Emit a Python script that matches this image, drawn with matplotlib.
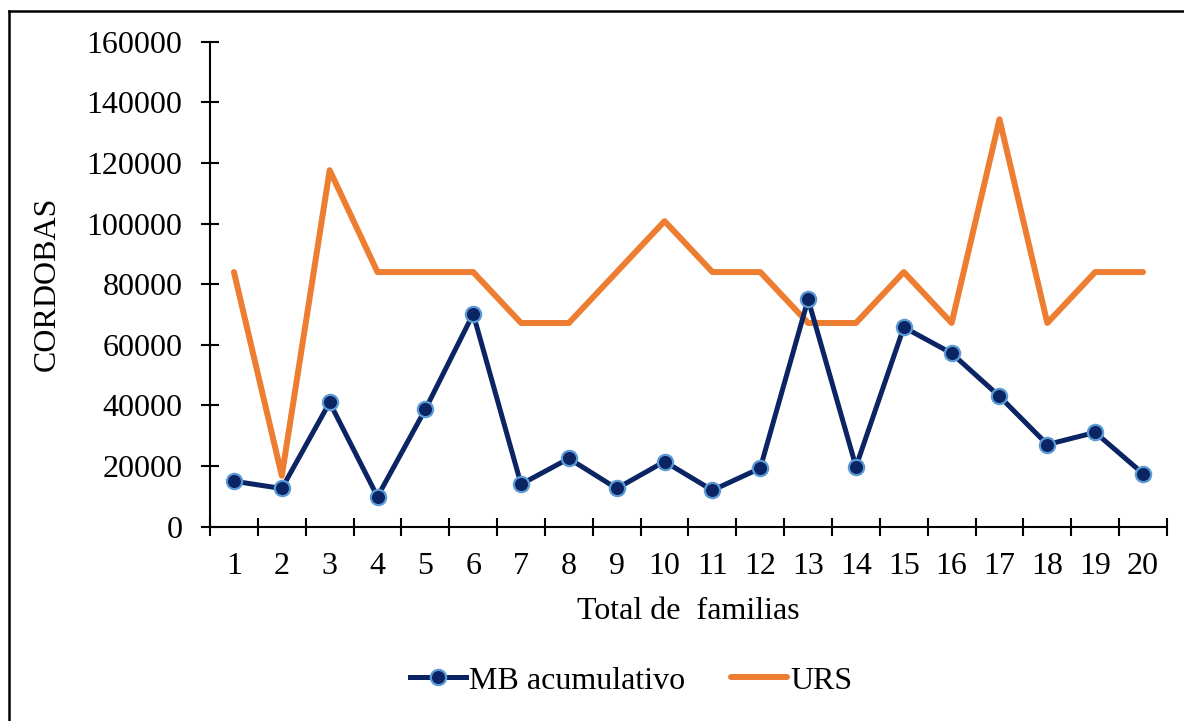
import matplotlib
matplotlib.use("Agg")
import matplotlib.pyplot as plt
from matplotlib.lines import Line2D

plt.rcParams['font.family'] = ['Liberation Serif', 'DejaVu Serif']

# datos
familias = list(range(1, 21))
mb_acumulativo = [15000, 12600, 41000, 9900, 38700, 70200, 14000, 22500, 12600, 21500,
                  12000, 19300, 75000, 19800, 65800, 57200, 43000, 27100, 31100, 17500]
urs = [84000, 16800, 117600, 84000, 84000, 84000, 67200, 67200, 84000, 100800,
       84000, 84000, 67200, 67200, 84000, 67200, 134400, 67200, 84000, 84000]
y_ticks = list(range(0, 160001, 20000))

fig = plt.figure(figsize=(11.84, 7.21), dpi=100)
ax = fig.add_axes([0.1774, 0.2695, 0.8082, 0.6727])

ax.plot(familias, mb_acumulativo, color="#0B2463", lw=3.6, marker="o", ms=11,
        markerfacecolor="#0B2463", markeredgecolor="#5B9BD5", markeredgewidth=1.6,
        label="MB acumulativo", zorder=3, solid_joinstyle="miter")
ax.plot(familias, urs, color="#ED7D31", lw=4.3, label="URS", zorder=2,
        solid_capstyle="round")

ax.set_xlim(0.5, 20.5)
ax.set_ylim(0, 160000)
ax.set_yticks(y_ticks)
ax.set_yticklabels([str(v) for v in y_ticks])
ax.set_xticks(familias)
ax.set_xticklabels([str(f) for f in familias])
ax.set_xticks([f + 0.5 for f in range(0, 21)], minor=True)

ax.tick_params(axis="y", direction="inout", length=13.5, width=1.5, pad=13, labelsize=23)
ax.tick_params(axis="x", which="major", length=0, pad=18, labelsize=23)
ax.tick_params(axis="x", which="minor", direction="inout", length=13.5, width=1.5)

for s in ["top", "right"]:
    ax.spines[s].set_visible(False)
for s in ["left", "bottom"]:
    ax.spines[s].set_linewidth(1.5)

ax.set_xlabel("Total de  familias", fontsize=23, labelpad=12)
ax.set_ylabel("CORDOBAS", fontsize=23, labelpad=18)

fig.legend(loc="center", bbox_to_anchor=(0.533, 0.0555), ncol=2, frameon=False,
           fontsize=23, handlelength=1.75, handletextpad=0.1, columnspacing=1.45)

# marco del grafico (solo se ve arriba e izquierda)
fig.add_artist(Line2D([0.0072, 1.0], [0.9854, 0.9854], transform=fig.transFigure,
                      color="black", lw=1.8))
fig.add_artist(Line2D([0.0072, 0.0072], [0.0, 0.9854], transform=fig.transFigure,
                      color="black", lw=1.8))

fig.savefig("out.png", dpi=100)
